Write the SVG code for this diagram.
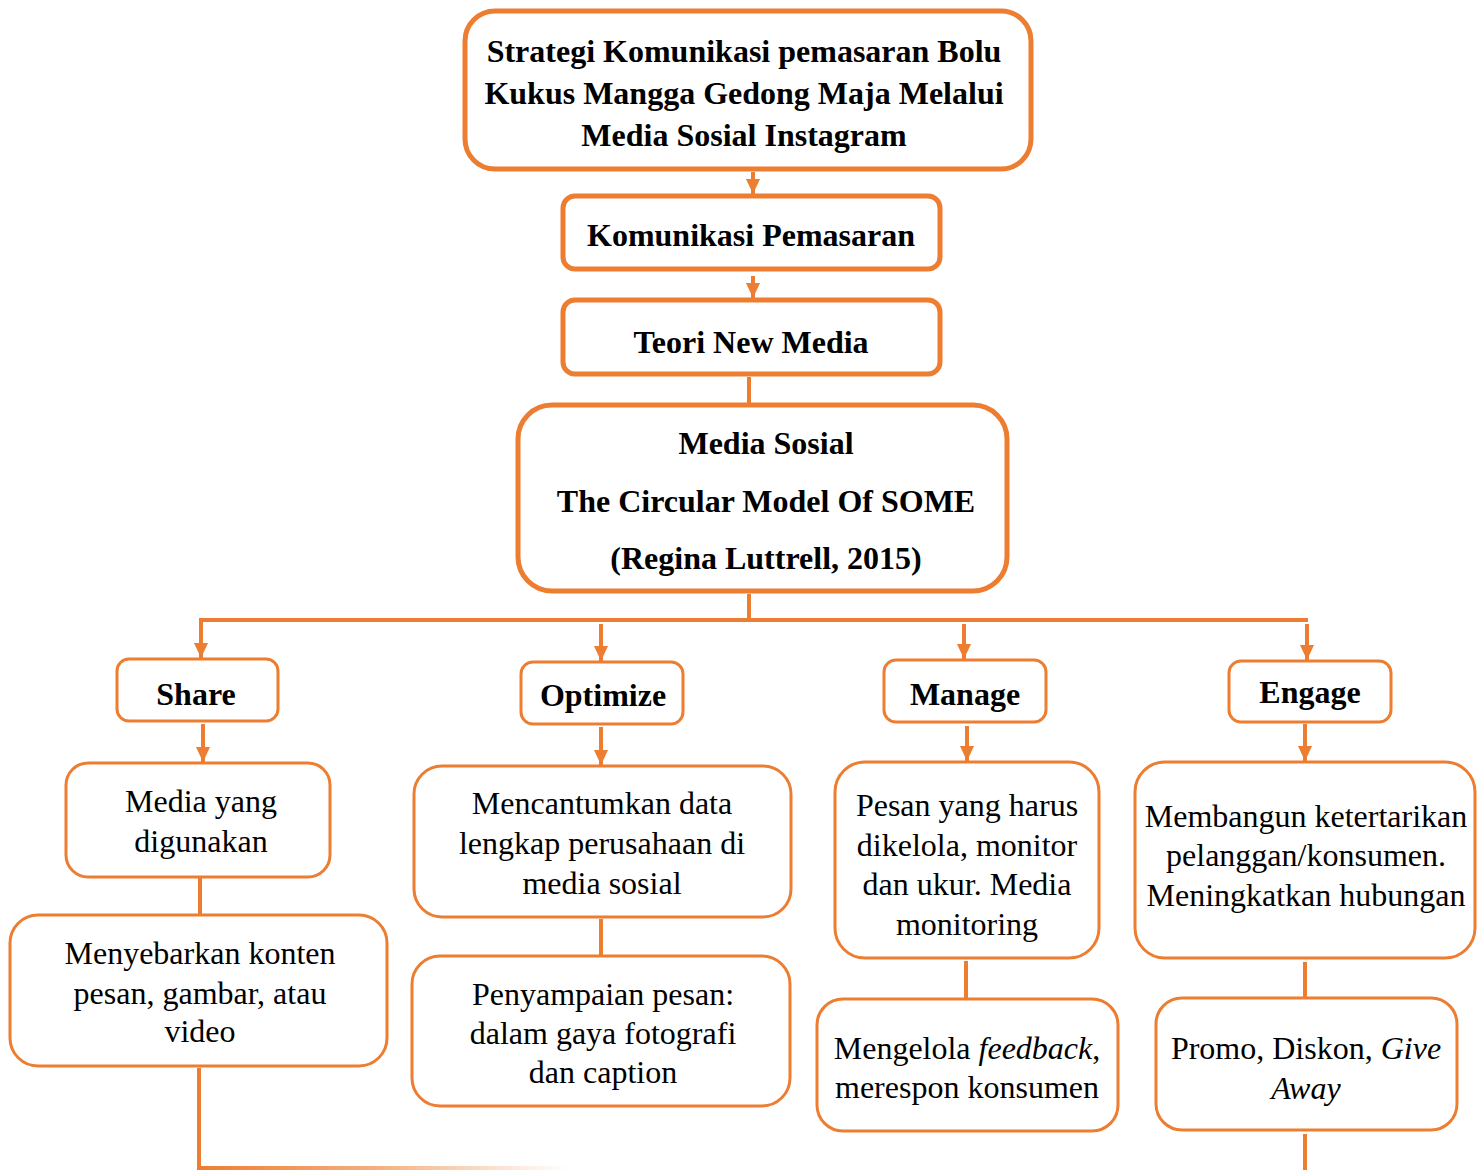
<svg xmlns="http://www.w3.org/2000/svg" width="1483" height="1170" viewBox="0 0 1483 1170">
<defs>
<style>
.big{fill:#fff;stroke:#ED7D31;stroke-width:5}
.sm{fill:#fff;stroke:#ED7D31;stroke-width:3}
.b{font-family:"Liberation Serif","Times New Roman",serif;font-weight:bold;font-size:32px;fill:#000;text-anchor:middle}
.r{font-family:"Liberation Serif","Times New Roman",serif;font-size:32px;fill:#000;text-anchor:middle}
.ln{stroke:#ED7D31;stroke-width:4;fill:none}
</style>
<marker id="ah" markerWidth="16" markerHeight="14" refX="15" refY="7" orient="auto" markerUnits="userSpaceOnUse">
<path d="M0,0 L15,7 L0,14 Z" fill="#ED7D31"/>
</marker>
<linearGradient id="fade" x1="0" y1="0" x2="1" y2="0">
<stop offset="0" stop-color="#ED7D31"/>
<stop offset="0.5" stop-color="#ED7D31" stop-opacity="0.6"/>
<stop offset="1" stop-color="#ED7D31" stop-opacity="0"/>
</linearGradient>
</defs>
<rect width="1483" height="1170" fill="#fff"/>
<g id="connectors">
<line class="ln" x1="753" y1="172" x2="753" y2="194" marker-end="url(#ah)"/>
<line class="ln" x1="753" y1="276" x2="753" y2="298" marker-end="url(#ah)"/>
<line class="ln" x1="749" y1="377" x2="749" y2="404"/>
<line class="ln" x1="749" y1="594" x2="749" y2="620"/>
<polyline class="ln" points="201,645 201,620 1308,620"/>
<line class="ln" x1="201" y1="640" x2="201" y2="658" marker-end="url(#ah)"/>
<line class="ln" x1="601" y1="624" x2="601" y2="661" marker-end="url(#ah)"/>
<line class="ln" x1="964" y1="624" x2="964" y2="659" marker-end="url(#ah)"/>
<line class="ln" x1="1307" y1="624" x2="1307" y2="660" marker-end="url(#ah)"/>
<line class="ln" x1="203" y1="724" x2="203" y2="762" marker-end="url(#ah)"/>
<line class="ln" x1="601" y1="727" x2="601" y2="765" marker-end="url(#ah)"/>
<line class="ln" x1="967" y1="726" x2="967" y2="761" marker-end="url(#ah)"/>
<line class="ln" x1="1305" y1="724" x2="1305" y2="761" marker-end="url(#ah)"/>
<line class="ln" x1="200" y1="877" x2="200" y2="916"/>
<line class="ln" x1="601" y1="919" x2="601" y2="956"/>
<line class="ln" x1="966" y1="961" x2="966" y2="999"/>
<line class="ln" x1="1305" y1="962" x2="1305" y2="998"/>
<line class="ln" x1="199" y1="1068" x2="199" y2="1170"/>
<rect x="197" y="1166" width="370" height="4" fill="url(#fade)"/>
<line class="ln" x1="1305" y1="1134" x2="1305" y2="1170"/>
</g>
<g id="n-strategi">
<rect class="big" x="465" y="11" width="566" height="158" rx="30"/>
<text class="b" x="744" y="62">Strategi Komunikasi pemasaran Bolu</text>
<text class="b" x="744" y="104">Kukus Mangga Gedong Maja Melalui</text>
<text class="b" x="744" y="146">Media Sosial Instagram</text>
</g>
<g id="n-komunikasi">
<rect class="big" x="563" y="196" width="377" height="73" rx="12"/>
<text class="b" x="751" y="246">Komunikasi Pemasaran</text>
</g>
<g id="n-teori">
<rect class="big" x="563" y="300" width="377" height="74" rx="12"/>
<text class="b" x="751" y="353">Teori New Media</text>
</g>
<g id="n-media">
<rect class="big" x="518" y="405" width="489" height="186" rx="34"/>
<text class="b" x="766" y="454">Media Sosial</text>
<text class="b" x="766" y="512">The Circular Model Of SOME</text>
<text class="b" x="766" y="569">(Regina Luttrell, 2015)</text>
</g>
<g id="n-share">
<rect class="sm" x="117" y="659" width="161" height="62" rx="12"/>
<text class="b" x="196" y="705">Share</text>
</g>
<g id="n-optimize">
<rect class="sm" x="521" y="662" width="162" height="62" rx="12"/>
<text class="b" x="603" y="706">Optimize</text>
</g>
<g id="n-manage">
<rect class="sm" x="884" y="660" width="162" height="62" rx="12"/>
<text class="b" x="965" y="705">Manage</text>
</g>
<g id="n-engage">
<rect class="sm" x="1229" y="661" width="162" height="61" rx="12"/>
<text class="b" x="1310" y="703">Engage</text>
</g>
<g id="n-media-yang">
<rect class="sm" x="66" y="763" width="264" height="114" rx="22"/>
<text class="r" x="201" y="812">Media yang</text>
<text class="r" x="201" y="852">digunakan</text>
</g>
<g id="n-mencantumkan">
<rect class="sm" x="414" y="766" width="377" height="151" rx="28"/>
<text class="r" x="602" y="814">Mencantumkan data</text>
<text class="r" x="602" y="854">lengkap perusahaan di</text>
<text class="r" x="602" y="894">media sosial</text>
</g>
<g id="n-pesan">
<rect class="sm" x="835" y="762" width="264" height="196" rx="30"/>
<text class="r" x="967" y="816">Pesan yang harus</text>
<text class="r" x="967" y="856">dikelola, monitor</text>
<text class="r" x="967" y="895">dan ukur. Media</text>
<text class="r" x="967" y="935">monitoring</text>
</g>
<g id="n-membangun">
<rect class="sm" x="1135" y="762" width="340" height="196" rx="30"/>
<text class="r" x="1306" y="827">Membangun ketertarikan</text>
<text class="r" x="1306" y="866">pelanggan/konsumen.</text>
<text class="r" x="1306" y="906">Meningkatkan hubungan</text>
</g>
<g id="n-menyebarkan">
<rect class="sm" x="10" y="915" width="377" height="151" rx="28"/>
<text class="r" x="200" y="964">Menyebarkan konten</text>
<text class="r" x="200" y="1004">pesan, gambar, atau</text>
<text class="r" x="200" y="1042">video</text>
</g>
<g id="n-penyampaian">
<rect class="sm" x="412" y="956" width="378" height="150" rx="28"/>
<text class="r" x="603" y="1005">Penyampaian pesan:</text>
<text class="r" x="603" y="1044">dalam gaya fotografi</text>
<text class="r" x="603" y="1083">dan caption</text>
</g>
<g id="n-mengelola">
<rect class="sm" x="817" y="999" width="301" height="132" rx="26"/>
<text class="r" x="967" y="1059">Mengelola <tspan font-style="italic">feedback</tspan>,</text>
<text class="r" x="967" y="1098">merespon konsumen</text>
</g>
<g id="n-promo">
<rect class="sm" x="1156" y="998" width="301" height="132" rx="26"/>
<text class="r" x="1306" y="1059">Promo, Diskon, <tspan font-style="italic">Give</tspan></text>
<text class="r" x="1306" y="1099" font-style="italic">Away</text>
</g>
</svg>
